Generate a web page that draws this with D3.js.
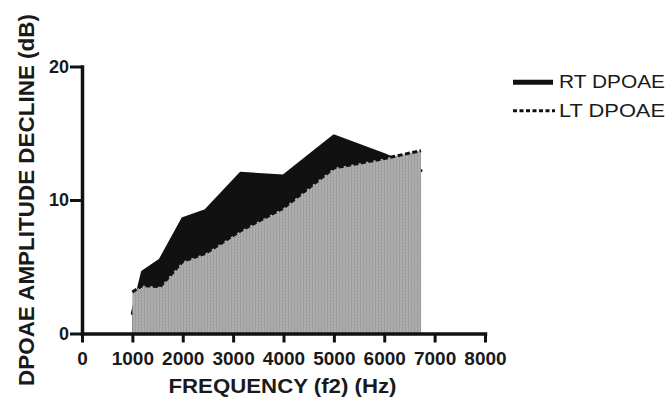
<!DOCTYPE html>
<html>
<head>
<meta charset="utf-8">
<script src="https://cdn.jsdelivr.net/npm/d3@7/dist/d3.min.js"></script>
<style>
  html, body { margin: 0; padding: 0; background: #fff; }
  svg { display: block; }
  text { font-family: "Liberation Sans", Arial, Helvetica, sans-serif; fill: #1a1a1a; }
</style>
</head>
<body>
<svg id="chart" width="670" height="398"></svg>
<script>
// f2 test frequencies (Hz)
const frequencies = [1000, 1200, 1550, 2000, 2450, 3150, 4000, 5000, 6000, 6730];
// DPOAE amplitude decline (dB), right and left ear
const rtDecline = [1.5, 4.6, 5.5, 8.6, 9.2, 12.0, 11.8, 14.8, 13.4, 12.2];
const ltDecline = [3.1, 3.6, 3.5, 5.4, 6.0, 7.7, 9.4, 12.4, 13.1, 13.7];

const xTicks = [0, 1000, 2000, 3000, 4000, 5000, 6000, 7000, 8000];
const yTicks = [0, 10, 20];
const seriesNames = ["RT DPOAE", "LT DPOAE"];

const svg = d3.select("#chart");

const x = d3.scaleLinear().domain([0, 8000]).range([82, 485]);
const y = d3.scaleLinear().domain([0, 20]).range([333.5, 66.5]);

// fine vertical hatching for the left-ear fill
const defs = svg.append("defs");
const pat = defs.append("pattern")
  .attr("id", "hatch")
  .attr("patternUnits", "userSpaceOnUse")
  .attr("width", 3).attr("height", 3);
pat.append("rect").attr("width", 3).attr("height", 3).attr("fill", "#afafaf");
pat.append("rect").attr("x", 0).attr("width", 1).attr("height", 3).attr("fill", "#9a9a9a");
pat.append("rect").attr("y", 0).attr("width", 3).attr("height", 1).attr("fill", "#a6a6a6");

const rtData = frequencies.map((f, i) => ({ f, v: rtDecline[i] }));
const ltData = frequencies.map((f, i) => ({ f, v: ltDecline[i] }));

const area = d3.area().x(d => x(d.f)).y0(y(0)).y1(d => y(d.v));
const line = d3.line().x(d => x(d.f)).y(d => y(d.v));

// right ear: solid black area and outline
svg.append("path").datum(rtData)
  .attr("d", area).attr("fill", "#111");
svg.append("path").datum(rtData)
  .attr("d", line).attr("fill", "none")
  .attr("stroke", "#111").attr("stroke-width", 3)
  .attr("stroke-linecap", "round").attr("stroke-linejoin", "round");

// left ear: hatched grey area with dashed outline
svg.append("path").datum(ltData)
  .attr("d", area).attr("fill", "url(#hatch)");
svg.append("path").datum(ltData)
  .attr("d", line).attr("fill", "none")
  .attr("stroke", "#111").attr("stroke-width", 3)
  .attr("stroke-dasharray", "5,2.5");

// axes
const xAxis = svg.append("g")
  .attr("transform", `translate(0,${y(0)})`)
  .call(d3.axisBottom(x).tickValues(xTicks).tickFormat(d3.format("d"))
    .tickSize(9).tickSizeOuter(0).tickPadding(9));
const yAxis = svg.append("g")
  .attr("transform", `translate(${x(0)},0)`)
  .call(d3.axisLeft(y).tickValues(yTicks).tickFormat(d3.format("d"))
    .tickSize(12).tickSizeOuter(0).tickPadding(1));

[xAxis, yAxis].forEach(g => {
  g.select(".domain").attr("stroke", "#111").attr("stroke-width", 3.5)
    .attr("stroke-linecap", "square");
  g.selectAll(".tick line").attr("stroke", "#111").attr("stroke-width", 3);
  g.selectAll(".tick text")
    .attr("font-family", "'Liberation Sans', Arial, sans-serif")
    .attr("font-weight", "bold").attr("fill", "#1a1a1a");
});
xAxis.selectAll(".tick text").attr("font-size", 19);
yAxis.selectAll(".tick text").attr("font-size", 18);

// axis titles
svg.append("text")
  .attr("x", 282.5).attr("y", 393.3)
  .attr("text-anchor", "middle")
  .attr("font-size", 20).attr("font-weight", "bold")
  .attr("textLength", 228).attr("lengthAdjust", "spacingAndGlyphs")
  .text("FREQUENCY (f2) (Hz)");

svg.append("text")
  .attr("transform", "translate(34,200) rotate(-90)")
  .attr("text-anchor", "middle")
  .attr("font-size", 22.5).attr("font-weight", "bold")
  .attr("textLength", 372).attr("lengthAdjust", "spacingAndGlyphs")
  .text("DPOAE AMPLITUDE DECLINE (dB)");

// legend
const legend = svg.append("g");
legend.append("line")
  .attr("x1", 513).attr("x2", 553).attr("y1", 82.3).attr("y2", 82.3)
  .attr("stroke", "#111").attr("stroke-width", 5);
legend.append("line")
  .attr("x1", 513).attr("x2", 555).attr("y1", 110.7).attr("y2", 110.7)
  .attr("stroke", "#111").attr("stroke-width", 3)
  .attr("stroke-dasharray", "4,2.5");
legend.selectAll("text.lg").data(seriesNames).join("text")
  .attr("class", "lg")
  .attr("x", 559).attr("y", (d, i) => [88.3, 116.6][i])
  .attr("font-size", 17.5)
  .attr("textLength", 106).attr("lengthAdjust", "spacingAndGlyphs")
  .text(d => d);
</script>
</body>
</html>
